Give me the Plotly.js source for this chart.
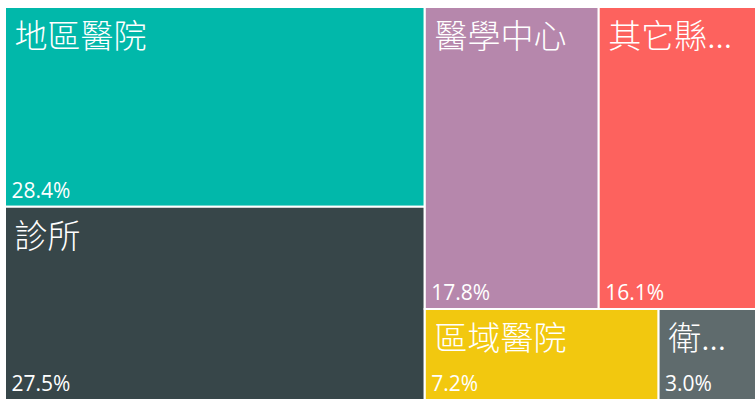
<!DOCTYPE html>
<html>
<head>
<meta charset="utf-8">
<script src="https://cdn.plot.ly/plotly-3.0.1.min.js"></script>
<style>html,body{margin:0;padding:0;background:#fff;}#chart{width:756px;height:400px;}</style>
</head>
<body>
<div id="chart"></div>
<script>
// Data
const categories = ["地區醫院", "診所", "醫學中心", "其它縣...", "區域醫院", "衛..."];
const shares = [28.4, 27.5, 17.8, 16.1, 7.2, 3.0];
const colors = ["#01B8AA", "#374649", "#B687AC", "#FD625E", "#F2C80F", "#5F6B6D"];
// grouping used to reproduce the tile arrangement
const leafGroup = ["L", "L", "RT", "RT", "RB", "RB"];
const groupIds = ["root", "L", "R", "RT", "RB"];
const groupParents = ["", "root", "root", "R", "R"];

const ids = groupIds.concat(categories.map((c, i) => "leaf" + i));
const parents = groupParents.concat(leafGroup);
const values = groupIds.map(() => 0).concat(shares);
const labelText = groupIds.map(() => "").concat(categories.map(c => "\u2009" + c));
const pctText = groupIds.map(() => "").concat(shares.map(v => "\u2009" + v.toFixed(1) + "%"));
const fillColors = groupIds.map(() => "#ffffff").concat(colors);

const common = {
  type: "treemap",
  ids: ids,
  labels: ids,
  parents: parents,
  values: values,
  branchvalues: "remainder",
  sort: true,
  tiling: {packing: "slice-dice", pad: 0},
  pathbar: {visible: false},
  textinfo: "text",
  hoverinfo: "skip",
  leaf: {opacity: 1}
};

const base = Object.assign({}, common, {
  text: labelText,
  textposition: "top left",
  textfont: {family: "Noto Sans CJK TC, sans-serif", size: 33, weight: 300, color: "#ffffff"},
  marker: {colors: fillColors, line: {color: "#ffffff", width: 2}, pad: {t: 0, l: 0, r: 0, b: 0}, depthfade: false}
});

const overlay = Object.assign({}, common, {
  text: pctText,
  textposition: "bottom left",
  textfont: {family: "Open Sans, Noto Sans, sans-serif", size: 21, color: "#ffffff"},
  marker: {colors: ids.map(() => "rgba(0,0,0,0)"), line: {color: "rgba(0,0,0,0)", width: 0}, pad: {t: 0, l: 0, r: 0, b: 0}, depthfade: false}
});

Plotly.newPlot("chart", [base, overlay], {
  width: 756, height: 400,
  margin: {l: 5, r: 0, t: 7, b: 0},
  paper_bgcolor: "#ffffff",
  showlegend: false
}, {displayModeBar: false, staticPlot: true});
</script>
</body>
</html>
